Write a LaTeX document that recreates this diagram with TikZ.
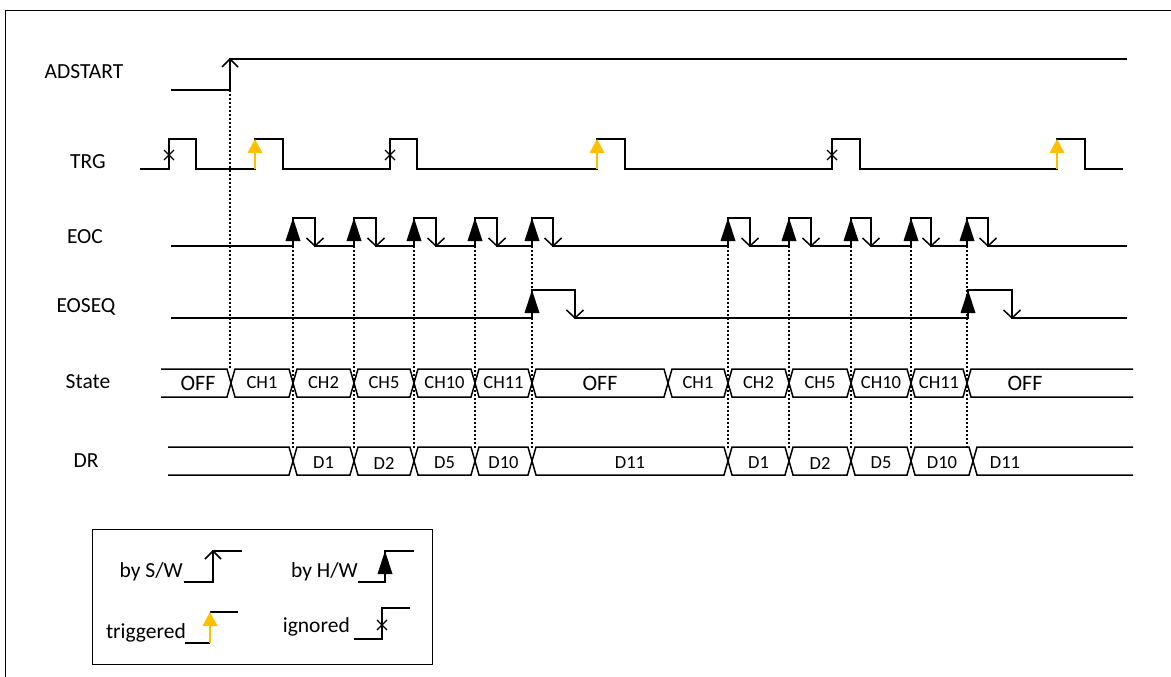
\documentclass[tikz,border=0pt]{standalone}
\usepackage{fontspec}
\setmainfont{Carlito}
\definecolor{trig}{HTML}{FFC000}
\tikzset{
  sig/.style={line width=1.5pt},
  guide/.style={line width=1.4pt,dash pattern=on 2pt off 2pt},
  signame/.style={font=\fontsize{21.5}{24}\selectfont},
  buslbl/.style={font=\fontsize{18.5}{20}\selectfont},
  offlbl/.style={font=\fontsize{22}{24}\selectfont},
  legtxt/.style={font=\fontsize{21.5}{24}\selectfont,anchor=base east,inner sep=0pt}
}
\begin{document}
\begin{tikzpicture}[x=1pt,y=-1pt]
  \useasboundingbox (0,0) rectangle (1171,677);
  \draw[line width=1pt] (5,677) -- (5,11) -- (1171,11);

  % bus segment: from, to, top, bottom
  \def\seg#1#2#3#4{
    \draw[sig] (#1,{(#3+#4)/2}) -- (#1+4,#3) -- (#2-4,#3) -- (#2,{(#3+#4)/2}) -- (#2-4,#4) -- (#1+4,#4) -- cycle;
  }
  % edge marks: x, tip y
  \def\ign#1#2{
    \draw[line width=1.4pt] (#1-5,#2-5) -- (#1+5,#2+5) (#1-5,#2+5) -- (#1+5,#2-5);
  }
  \def\sw#1#2{\draw[sig] (#1-8,#2+8) -- (#1,#2) -- (#1+8,#2+8);}
  \def\swd#1#2{\draw[sig] (#1-8.5,#2-8) -- (#1,#2) -- (#1+8.5,#2-8);}
  \def\hw#1#2{\fill (#1,#2) -- (#1-7.5,#2+23) -- (#1+7.5,#2+23) -- cycle;}
  \def\tg#1#2#3{
    \draw[sig,trig] (#1,#3) -- (#1,#2+10);
    \fill[trig] (#1,#2) -- (#1-7.5,#2+14) -- (#1+7.5,#2+14) -- cycle;
  }

  % signal names
  \node[signame] (adstart) at (84,72) {ADSTART};
  \node[signame] (trg) at (88,162) {TRG};
  \node[signame] (eoc) at (85,237) {EOC};
  \node[signame] (eoseq) at (86,307) {EOSEQ};
  \node[signame] (state) at (88,382) {State};
  \node[signame] (dr) at (86,461) {DR};

  % dotted guides
  \draw[guide] (230,90) -- (230,369);
  \foreach \x in {293,354,414,475,532,728,789,851,911,967}
    \draw[guide] (\x,246) -- (\x,449);

  % ADSTART
  \draw[sig] (171,90) -- (230,90) -- (230,59) -- (1127,59);
  \sw{230}{59}

  % TRG
  \draw[sig] (140,169) \foreach \r/\f in {169/196,255/283,390/417,597/625,832/860,1057/1085} {
    -- (\r,169) -- (\r,139) -- (\f,139) -- (\f,169) } -- (1123,169);
  \foreach \r in {169,390,832} {\ign{\r}{155}}
  \foreach \r in {255,597,1057} {\tg{\r}{139}{169}}

  % EOC
  \draw[sig] (171,246) \foreach \r/\f in {293/315,354/376,414/436,475/497,532/553,728/750,789/811,851/871,911/931,967/988} {
    -- (\r,246) -- (\r,218) -- (\f,218) -- (\f,246) } -- (1127,246);
  \foreach \r/\f in {293/315,354/376,414/436,475/497,532/553,728/750,789/811,851/871,911/931,967/988} {
    \hw{\r}{218}
    \swd{\f}{246}
  }

  % EOSEQ
  \draw[sig] (171,318) \foreach \r/\f in {532/575,968/1012} {
    -- (\r,318) -- (\r,290) -- (\f,290) -- (\f,318) } -- (1127,318);
  \foreach \r/\f in {532/575,968/1012} {
    \hw{\r}{290}
    \swd{\f}{318}
  }

  % State
  \draw[sig] (161,369) -- (227,369) -- (231,383) -- (227,397) -- (161,397);
  \node[offlbl] (st0) at (198,383) {OFF};
  \foreach \a/\b/\t [count=\i] in {231/293/CH1,293/354/CH2,354/414/CH5,414/475/CH10,475/532/CH11,668/728/CH1,728/789/CH2,789/851/CH5,851/911/CH10,911/967/CH11} {
    \seg{\a}{\b}{369}{397}
    \node[buslbl] (st\i) at ({(\a+\b)/2},383) {\t};
  }
  \seg{532}{668}{369}{397}
  \node[offlbl] (stoff) at (600,383) {OFF};
  \draw[sig] (1133,369) -- (971,369) -- (967,383) -- (971,397) -- (1133,397);
  \node[offlbl] (stend) at (1025,383) {OFF};

  % DR
  \draw[sig] (168,447) -- (289,447) -- (293,461) -- (289,475) -- (168,475);
  \foreach \a/\b/\t [count=\i] in {293/354/D1,354/414/D2,414/475/D5,475/532/D10,532/728/D11,728/789/D1,789/851/D2,851/911/D5,911/973/D10} {
    \seg{\a}{\b}{447}{475}
    \node[buslbl] (dr\i) at ({(\a+\b)/2},463) {\t};
  }
  \draw[sig] (1133,447) -- (977,447) -- (973,461) -- (977,475) -- (1133,475);
  \node[buslbl] (drend) at (1005,463) {D11};

  % legend
  \draw[line width=1pt] (92,529) rectangle (432,664);
  \node[legtxt] (lsw) at (183,577) {by S/W};
  \draw[sig] (184,582) -- (213,582) -- (213,551) -- (242,551);
  \sw{213}{551}
  \node[legtxt] (lhw) at (358,577) {by H/W};
  \draw[sig] (358,582) -- (385,582) -- (385,551) -- (414,551);
  \hw{385}{551}
  \node[legtxt] (ltrg) at (186,638) {triggered};
  \draw[sig] (185,643) -- (210,643);
  \draw[sig] (210,612) -- (238,612);
  \tg{210}{612}{643}
  \node[legtxt] (lign) at (350,632) {ignored};
  \draw[sig] (354,639) -- (382,639) -- (382,608) -- (410,608);
  \ign{382}{625}
\end{tikzpicture}
\end{document}
